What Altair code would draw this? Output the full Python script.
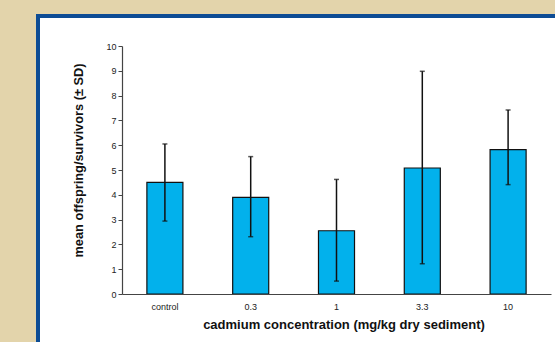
import altair as alt
import pandas as pd

categories = ["control", "0.3", "1", "3.3", "10"]
means = [4.5, 3.9, 2.55, 5.08, 5.82]
upper = [6.05, 5.54, 4.62, 8.98, 7.42]
lower = [2.94, 2.31, 0.52, 1.22, 4.41]

df = pd.DataFrame({"conc": categories, "mean": means, "hi": upper, "lo": lower})

W, H = 429, 248
FONT = "Liberation Sans"

xenc = alt.X("conc:N", sort=categories,
             scale=alt.Scale(paddingInner=0.58, paddingOuter=0.29),
             axis=alt.Axis(title="cadmium concentration (mg/kg dry sediment)",
                           labelAngle=0, ticks=False, labelPadding=8, labelFontSize=9,
                           labelColor="#222", domainColor="#444", domainWidth=1.2,
                           titleFontSize=13, titleFontWeight="bold", titleColor="#111",
                           titleX=W / 2 + 7, titleY=30, titleBaseline="middle", zindex=2))

yenc = alt.Y("mean:Q", scale=alt.Scale(domain=[0, 10], nice=False),
             axis=alt.Axis(title="mean offspring/survivors (± SD)", values=list(range(11)),
                           tickCount=11, labelOverlap=False,
                           tickSize=4, tickColor="#444", domainColor="#444", domainWidth=1.2,
                           labelFontSize=9, labelColor="#222", labelPadding=2,
                           titleFontSize=12.8, titleFontWeight="bold", titleColor="#111",
                           titleX=-44, titleY=H / 2 - 10, titleAlign="center",
                           titleBaseline="middle", titleAngle=-90, grid=False, zindex=2))

panel = alt.Chart(df).mark_rect(fill="white", stroke="#0d4c94", strokeWidth=4).encode(
    x=alt.value(-84), x2=alt.value(480), y=alt.value(-30), y2=alt.value(330)
).transform_filter("datum.conc == 'control'")

bars = alt.Chart(df).mark_bar(color="#02b1ec", stroke="#111", strokeWidth=1.2).encode(
    x=xenc, y=yenc
)

rule = alt.Chart(df).mark_rule(color="#111", strokeWidth=1.5).encode(
    x=alt.X("conc:N", sort=categories), y="lo:Q", y2="hi:Q"
)
cap_hi = alt.Chart(df).mark_tick(color="#111", size=5, thickness=1.5, orient="horizontal").encode(
    x=alt.X("conc:N", sort=categories), y="hi:Q"
)
cap_lo = alt.Chart(df).mark_tick(color="#111", size=5, thickness=1.5, orient="horizontal").encode(
    x=alt.X("conc:N", sort=categories), y="lo:Q"
)

chart = alt.layer(panel, bars, rule, cap_hi, cap_lo).properties(
    width=W, height=H,
    autosize=alt.AutoSizeParams(type="none"),
    padding={"left": 122, "top": 46, "right": 4, "bottom": 48},
    background="#e3d4ab",
).configure_view(stroke=None).configure(font=FONT)

chart.save("out.html", embed_options={"renderer": "svg", "actions": False})
